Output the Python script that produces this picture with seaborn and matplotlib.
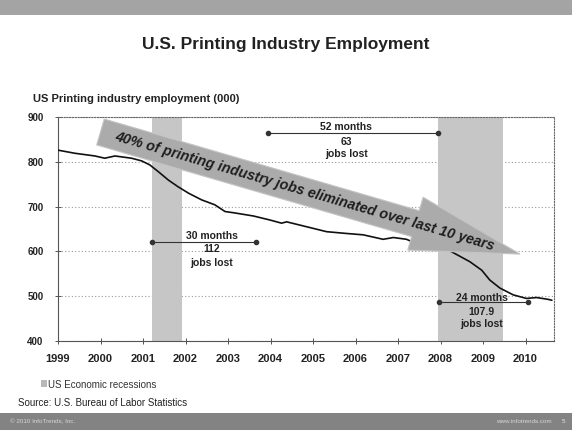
import numpy as np
import pandas as pd
import matplotlib
matplotlib.use("Agg")
import matplotlib.pyplot as plt
from matplotlib.patches import Polygon, Rectangle
import seaborn as sns

# Monthly-ish readings of US printing industry employment (thousands)
years = [1999.0, 1999.4, 1999.87, 2000.1, 2000.34, 2000.73, 2000.97, 2001.16,
         2001.36, 2001.6, 2001.83, 2002.07, 2002.38, 2002.69, 2002.93, 2003.15,
         2003.6, 2003.99, 2004.26, 2004.38, 2004.85, 2005.32, 2005.79, 2006.18,
         2006.65, 2006.89, 2007.2, 2007.32, 2007.6, 2007.9, 2008.15, 2008.38,
         2008.69, 2008.97, 2009.16, 2009.4, 2009.71, 2010.02, 2010.26, 2010.53,
         2010.62]
employment = [826, 819, 813, 808, 813, 808, 802, 793,
              778, 759, 744, 730, 715, 704, 689, 686,
              679, 670, 663, 666, 655, 644, 640, 637,
              627, 631, 627, 622, 620, 614, 605, 593,
              577, 558, 536, 518, 503, 495, 497, 493,
              491]

# Recession periods (start, end)
recessions = [(2001.21, 2001.92), (2007.94, 2009.47)]

# Bracket annotations: x start, x end, y level, label lines
bracket_x0 = [2001.21, 2003.95, 2007.97]
bracket_x1 = [2003.66, 2007.93, 2010.05]
bracket_y = [621, 864, 486]
bracket_months = ["30 months", "52 months", "24 months"]
bracket_lost = ["112", "63", "107.9"]
bracket_text_x = [2002.62, 2005.78, 2008.97]
bracket_text_y = [(635, 605, 575), (877, 845, 817), (497, 465, 439)]

year_ticks = list(range(1999, 2011))
value_ticks = [400, 500, 600, 700, 800, 900]

df = pd.DataFrame({"year": years, "employment": employment})

sns.set_style("white")
plt.rcParams["font.family"] = ["Liberation Sans", "DejaVu Sans"]

W, H = 572, 430
fig = plt.figure(figsize=(W / 100, H / 100), dpi=100)
fig.patch.set_facecolor("white")


def px(x, y):
    return (x / W, 1 - y / H)


ax = fig.add_axes([58 / W, 1 - 341 / H, 496 / W, 224 / H])
ax.set_xlim(1999, 2010.67)
ax.set_ylim(400, 900)

# recession shading
for a, b in recessions:
    ax.axvspan(a, b, color="#c6c6c6", lw=0, zorder=1)

sns.lineplot(data=df, x="year", y="employment", color="#111111", lw=1.2,
             ax=ax, zorder=3)

ax.set_xlabel("")
ax.set_ylabel("")
ax.set_xticks(year_ticks)
ax.set_xticklabels([str(y) for y in year_ticks], fontsize=8, fontweight="bold",
                   color="#222222")
ax.set_yticks(value_ticks)
ax.set_yticklabels([str(v) for v in value_ticks], fontsize=7, fontweight="bold",
                   color="#222222")
ax.tick_params(axis="x", direction="inout", length=5, width=0.7,
               color="#555555", pad=7, bottom=True)
ax.tick_params(axis="y", direction="inout", length=5, width=0.7,
               color="#555555", pad=8, left=True)

ax.yaxis.grid(True, linestyle=(0, (1, 2)), color="#9a9a9a", lw=0.8, zorder=0)
ax.xaxis.grid(False)
for side in ["top", "right"]:
    ax.spines[side].set_linestyle((0, (1, 1.5)))
    ax.spines[side].set_color("#666666")
    ax.spines[side].set_linewidth(0.8)
ax.spines["left"].set_color("#555555")
ax.spines["left"].set_linewidth(0.8)
ax.spines["bottom"].set_color("#555555")
ax.spines["bottom"].set_linewidth(0.8)
ax.spines["bottom"].set_linestyle((0, (3, 1)))

# bracket annotations
for x0, x1, yv, m, lost, tx, ty in zip(bracket_x0, bracket_x1, bracket_y,
                                        bracket_months, bracket_lost,
                                        bracket_text_x, bracket_text_y):
    ax.plot([x0, x1], [yv, yv], color="#333333", lw=0.8, marker="o",
            markersize=3, zorder=5)
    for txt, yy in zip((m, lost, "jobs lost"), ty):
        ax.text(tx, yy, txt, ha="center", va="center", fontsize=7.5,
                fontweight="bold", color="#222222", zorder=6)

# big trend arrow, anchored in data space
fig.canvas.draw()
S = ax.transData.transform((2000.0, 866.5))
T = ax.transData.transform((2009.87, 594))
d = T - S
L = np.hypot(*d)
u = d / L
n = np.array([-u[1], u[0]])
w, hw, base = 13.5, 27.5, 328
B = S + base * u
poly = [S + w * n, B + w * n, B + hw * n, T, B - hw * n, B - w * n, S - w * n]
poly_fig = fig.transFigure.inverted().transform(np.array(poly))
fig.patches.append(Polygon(poly_fig, closed=True, transform=fig.transFigure,
                           facecolor="#ababab", edgecolor="#c4c4c4", lw=0.8,
                           zorder=7))
C = S + 213 * u
Cf = fig.transFigure.inverted().transform(C)
ang = np.degrees(np.arctan2(d[1], d[0]))
fig.text(Cf[0], Cf[1], "40% of printing industry jobs eliminated over last 10 years",
         rotation=ang, rotation_mode="anchor", ha="center", va="center",
         fontsize=10.3, fontweight="bold", fontstyle="italic", color="#1e1e1e",
         zorder=8)

# header / footer bands
fig.patches.append(Rectangle(px(0, 15), 1, 15 / H, transform=fig.transFigure,
                             facecolor="#a4a4a4", edgecolor="none", zorder=0))
fig.patches.append(Rectangle(px(0, 430), 1, 17 / H, transform=fig.transFigure,
                             facecolor="#838383", edgecolor="none", zorder=0))
fig.text(*px(10, 421.5), "© 2010 InfoTrends, Inc.", fontsize=4.5,
         color="#d8d8d8", va="center")
fig.text(*px(552, 421.5), "www.infotrends.com", fontsize=4.5,
         color="#d8d8d8", va="center", ha="right")
fig.text(*px(563, 421.5), "5", fontsize=4.5, color="#e8e8e8", va="center",
         ha="center")

# titles
fig.text(*px(286, 44), "U.S. Printing Industry Employment", fontsize=12.5,
         fontweight="bold", ha="center", va="center", color="#222222")
fig.text(*px(33, 99.5), "US Printing industry employment (000)", fontsize=8,
         fontweight="bold", ha="left", va="center", color="#222222")

# recession legend and source
fig.patches.append(Rectangle(px(40.5, 387), 6 / W, 7 / H,
                             transform=fig.transFigure,
                             facecolor="#b8b8b8", edgecolor="none"))
fig.text(*px(48, 384.5), "US Economic recessions", fontsize=7, color="#333333",
         va="center")
fig.text(*px(18, 403), "Source: U.S. Bureau of Labor Statistics", fontsize=7,
         color="#222222", va="center")

fig.savefig("out.png", dpi=100)
